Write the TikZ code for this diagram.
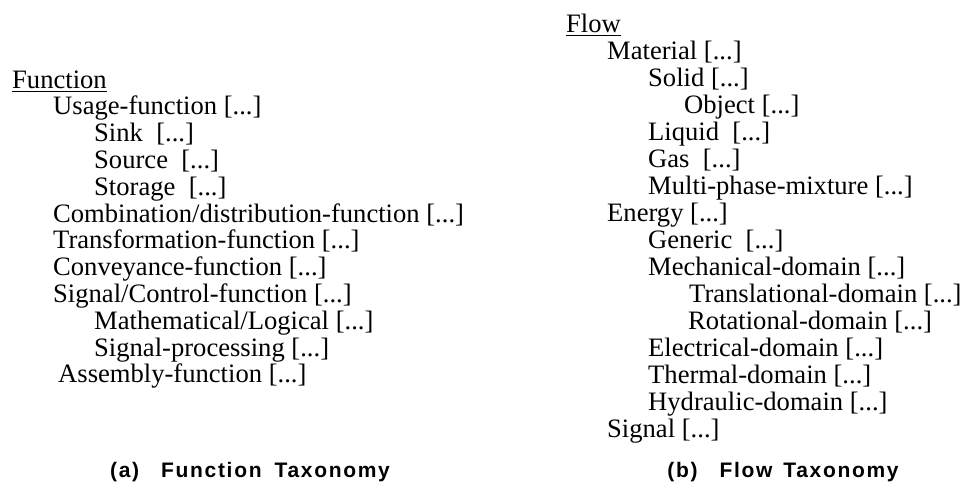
\documentclass[tikz,border=0pt]{standalone}
\usepackage{fontspec}
\setmainfont{Liberation Serif}
\newfontfamily\capfont[LetterSpace=8]{Liberation Sans}
\usetikzlibrary{positioning,calc}
\tikzset{>=latex}
\tikzset{
  entry/.style={anchor=base west,inner sep=0pt,font=\fontsize{26.6}{27}\selectfont},
  caption/.style={anchor=base,inner sep=0pt,font=\capfont\bfseries\fontsize{21}{24}\selectfont},
  uline/.style={line width=1pt}
}

\begin{document}
\begin{tikzpicture}[x=1pt,y=-1pt]
  \useasboundingbox (0,0) rectangle (966,482);

  % Function taxonomy
  \node[entry] (fun)     at (12,88)    {Function};
  \node[entry] (usage)   at (53,114.8) {Usage-function [...]};
  \node[entry] (sink)    at (94,141.6) {Sink\ \ [...]};
  \node[entry] (source)  at (94,168.4) {Source\ \ [...]};
  \node[entry] (storage) at (94,195.2) {Storage\ \ [...]};
  \node[entry] (comb)    at (53,222)   {Combination/distribution-function [...]};
  \node[entry] (transf)  at (53,248.8) {Transformation-function [...]};
  \node[entry] (conv)    at (53,275.6) {Conveyance-function [...]};
  \node[entry] (sigctl)  at (53,302.4) {Signal/Control-function [...]};
  \node[entry] (mathlog) at (94,329.2) {Mathematical/Logical [...]};
  \node[entry] (sigproc) at (94,356)   {Signal-processing [...]};
  \node[entry] (asm)     at (58,382.8) {Assembly-function [...]};

  % Flow taxonomy
  \node[entry] (flow)    at (566,32)  {Flow};
  \node[entry] (mat)     at (607,59)  {Material [...]};
  \node[entry] (solid)   at (648,86)  {Solid [...]};
  \node[entry] (obj)     at (684,113) {Object [...]};
  \node[entry] (liq)     at (648,140) {Liquid\ \ [...]};
  \node[entry] (gas)     at (648,167) {Gas\ \ [...]};
  \node[entry] (multi)   at (648,194) {Multi-phase-mixture [...]};
  \node[entry] (energy)  at (607,221) {Energy [...]};
  \node[entry] (gen)     at (648,248) {Generic\ \ [...]};
  \node[entry] (mech)    at (648,275) {Mechanical-domain [...]};
  \node[entry] (transl)  at (689,302) {Translational-domain [...]};
  \node[entry] (rot)     at (688,329) {Rotational-domain [...]};
  \node[entry] (elec)    at (648,356) {Electrical-domain [...]};
  \node[entry] (therm)   at (648,383) {Thermal-domain [...]};
  \node[entry] (hyd)     at (648,410) {Hydraulic-domain [...]};
  \node[entry] (signal)  at (607,437) {Signal [...]};

  % Underlines
  \draw[uline] ($(fun.base west)+(0,3)$) -- ($(fun.base east)+(0,3)$);
  \draw[uline] ($(flow.base west)+(0,3)$) -- ($(flow.base east)+(0,3)$);

  % Captions
  \node[caption] (capa) at (250,477) {(a)\hspace{22pt}Function\hspace{13pt}Taxonomy};
  \node[caption] (capb) at (783,477) {(b)\hspace{22pt}Flow\hspace{11pt}Taxonomy};
\end{tikzpicture}
\end{document}
